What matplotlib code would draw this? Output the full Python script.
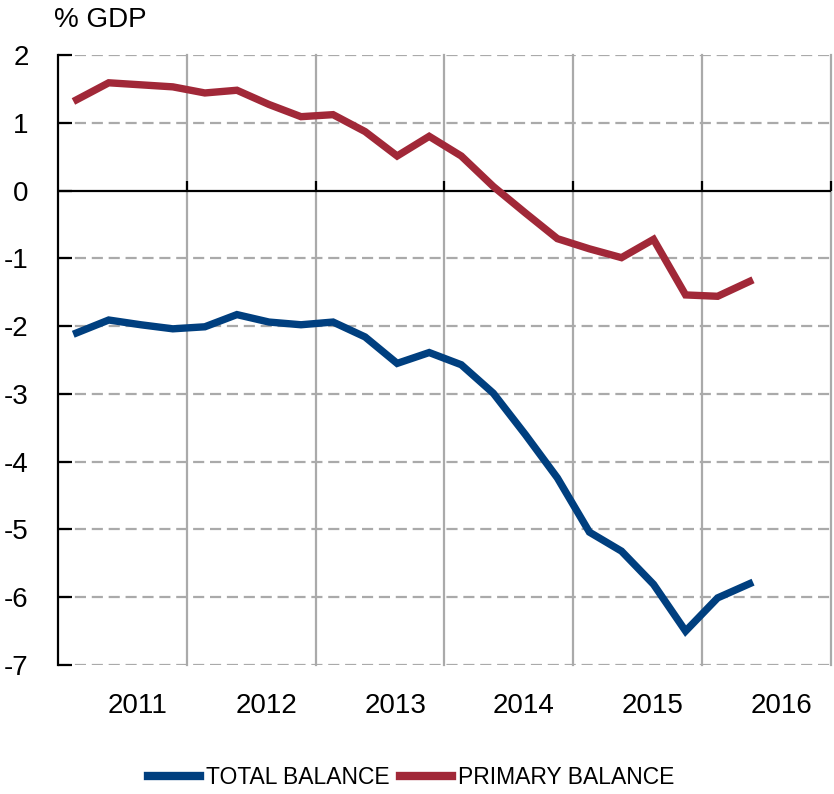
import matplotlib
matplotlib.use("Agg")
import matplotlib.pyplot as plt
import matplotlib.transforms as mtransforms
from matplotlib import font_manager

# quarterly fiscal balance, % of GDP
years = ["2011", "2012", "2013", "2014", "2015", "2016"]
total_balance = [-2.10, -1.91, -1.98, -2.04, -2.01, -1.83, -1.94, -1.98, -1.94, -2.16, -2.55,
                 -2.39, -2.57, -2.99, -3.60, -4.24, -5.04, -5.32, -5.81, -6.50, -6.01, -5.80]
primary_balance = [1.34, 1.59, 1.56, 1.53, 1.44, 1.48, 1.27, 1.09, 1.12, 0.87, 0.51,
                   0.80, 0.51, 0.06, -0.33, -0.71, -0.86, -0.99, -0.72, -1.54, -1.56, -1.34]

BLUE = "#003F7F"
RED = "#A12838"
GRID = "#AAAAAA"

plt.rcParams["font.family"] = ["Liberation Sans", "DejaVu Sans"]

# legend text is set tight; use a narrow face when there is one
installed = {f.name for f in font_manager.fontManager.ttflist}
if "Liberation Sans Narrow" in installed:
    leg_font = {"family": ["Liberation Sans Narrow", "Liberation Sans"], "size": 20}
else:
    leg_font = {"family": ["Liberation Sans", "DejaVu Sans"], "size": 16.5}

fig = plt.figure(figsize=(8.34, 7.94), dpi=100)
ax = fig.add_axes([58 / 834, 129 / 794, 773 / 834, 610 / 794])

# quarter positions: year j spans [4j, 4j+4]
xq = [0.58 + 0.995 * k for k in range(len(total_balance))]

ax.plot(xq, total_balance, color=BLUE, lw=5.3, solid_joinstyle="miter", label="TOTAL BALANCE", zorder=4)
ax.plot(xq, primary_balance, color=RED, lw=5.3, solid_joinstyle="miter", label="PRIMARY BALANCE", zorder=4)

ax.set_xlim(0, 24)
ax.set_ylim(-7, 2)

# gridlines
for yv in range(-7, 3):
    if yv != 0:
        ax.axhline(yv, color=GRID, lw=1.6, ls=(0, (5, 2.6)), zorder=1)
for j in range(1, 7):
    ax.axvline(4 * j, color=GRID, lw=1.6, zorder=1, clip_on=False)
ax.axhline(0, color="black", lw=1.6, zorder=3)

for s in ["top", "right"]:
    ax.spines[s].set_visible(False)
ax.spines["left"].set_linewidth(1.6)
ax.spines["bottom"].set_position(("data", 0))
ax.spines["bottom"].set_visible(False)

ax.set_yticks(range(-7, 3))
ax.set_yticklabels([str(v) for v in range(-7, 3)])
ax.tick_params(axis="y", direction="in", length=10, width=1.6, pad=21, labelsize=20)
ax.set_xticks([4 * j for j in range(1, 7)])
ax.set_xticklabels([])
ax.tick_params(axis="x", direction="in", length=7, width=1.6, zorder=5)

trans = mtransforms.blended_transform_factory(ax.transData, ax.transAxes)
for j, yr in enumerate(years):
    ax.text(4 * j + 2.47, -0.0787, yr, transform=trans, ha="center", va="baseline", fontsize=20)

fig.text(54 / 834, 1 - 26.7 / 794, "% GDP", ha="left", va="baseline", fontsize=20)

leg = fig.legend(loc="center", bbox_to_anchor=(411 / 834, 16 / 794), ncol=2, frameon=False,
                 handlelength=52 / (leg_font["size"] * 100 / 72), handletextpad=0.25,
                 columnspacing=0.45, prop=leg_font)
for line in leg.get_lines():
    line.set_linewidth(6)

fig.savefig("out.png", dpi=100)
